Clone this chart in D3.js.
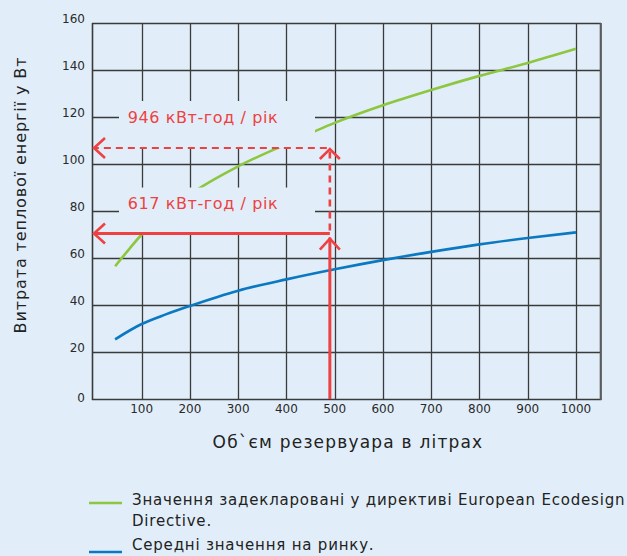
<!DOCTYPE html>
<html>
<head>
<meta charset="utf-8">
<script src="https://cdn.jsdelivr.net/npm/d3@7"></script>
<style>
  body { margin: 0; background: #e1eef9; }
  svg { display: block; font-family: "DejaVu Sans", sans-serif; }
</style>
</head>
<body>
<div id="graph"></div>
<script>
const width = 627
const height = 556

// tank volume (l) and heat loss (W)
const ecoVolume = [45, 75, 100, 150, 200, 300, 400, 500, 600, 700, 800, 900, 1000]
const ecoLoss = [56.5, 64, 70, 79, 87, 99, 108.5, 117.5, 125, 131.5, 137.5, 143, 149]
const marketVolume = [45, 100, 150, 200, 300, 400, 500, 600, 700, 800, 900, 1000]
const marketLoss = [25.4, 31.9, 36, 39.6, 46.1, 50.9, 55.2, 59.1, 62.6, 65.8, 68.5, 70.9]

const xTicks = [100, 200, 300, 400, 500, 600, 700, 800, 900, 1000]
const yTicks = [0, 20, 40, 60, 80, 100, 120, 140, 160]

// annotation: chosen tank and read-off losses
const pickVolume = 490
const ecoPick = 106.8
const marketPick = 70.4
const ecoLabel = "946 кВт-год / рік"
const marketLabel = "617 кВт-год / рік"

const legendItems = [
    { lines: ["Значення задекларовані у директиві European Ecodesign", "Directive."], color: "#8dc63f" },
    { lines: ["Середні значення на ринку."], color: "#0a78c2" }
]

const bg = "#e1eef9"
const red = "#ef4141"

const svg = d3.select("#graph").append("svg")
    .attr("width", width)
    .attr("height", height)

svg.append("rect")
    .attr("width", width)
    .attr("height", height)
    .attr("fill", bg)

const x = d3.scaleLinear()
    .domain([0, 1050])
    .range([93.4, 600.1])

const y = d3.scaleLinear()
    .domain([0, 160])
    .range([399, 23])

// Grid
svg.append("g")
    .attr("stroke", "#3a3a3a")
    .attr("stroke-width", 1.3)
    .selectAll()
    .data(xTicks)
    .join("line")
    .attr("x1", d => Math.round(x(d)) + 0.5)
    .attr("x2", d => Math.round(x(d)) + 0.5)
    .attr("y1", y(160))
    .attr("y2", y(0))

svg.append("g")
    .attr("stroke", "#3a3a3a")
    .attr("stroke-width", 1.3)
    .selectAll()
    .data(yTicks.filter(d => d > 0))
    .join("line")
    .attr("x1", 92)
    .attr("x2", 601)
    .attr("y1", d => Math.round(y(d)) + 0.5)
    .attr("y2", d => Math.round(y(d)) + 0.5)

// Axes frame
svg.append("line")
    .attr("x1", 92.5).attr("x2", 92.5)
    .attr("y1", y(160)).attr("y2", y(0) + 1)
    .attr("stroke", "#3a3a3a").attr("stroke-width", 1.6)
svg.append("line")
    .attr("x1", 92).attr("x2", 601.5)
    .attr("y1", y(0) + 0.5).attr("y2", y(0) + 0.5)
    .attr("stroke", "#3a3a3a").attr("stroke-width", 1.6)
svg.append("line")
    .attr("x1", 600.8).attr("x2", 600.8)
    .attr("y1", y(160)).attr("y2", y(0) + 1)
    .attr("stroke", "#5c5c5c").attr("stroke-width", 2.2)

// Tick labels
svg.append("g")
    .attr("font-size", 12)
    .attr("fill", "#2a2a2a")
    .attr("text-anchor", "end")
    .selectAll()
    .data(yTicks)
    .join("text")
    .attr("x", 85)
    .attr("y", d => y(d) + (d === 0 ? 3 : 0))
    .text(d => d)

svg.append("g")
    .attr("font-size", 12)
    .attr("fill", "#2a2a2a")
    .attr("text-anchor", "middle")
    .selectAll()
    .data(xTicks)
    .join("text")
    .attr("x", d => x(d))
    .attr("y", 413)
    .text(d => d)

// Curves
const line = d3.line()
    .x(d => x(d[0]))
    .y(d => y(d[1]))
    .curve(d3.curveMonotoneX)

svg.append("path")
    .attr("d", line(d3.zip(ecoVolume, ecoLoss)))
    .attr("fill", "none")
    .attr("stroke", legendItems[0].color)
    .attr("stroke-width", 2.6)

svg.append("path")
    .attr("d", line(d3.zip(marketVolume, marketLoss)))
    .attr("fill", "none")
    .attr("stroke", legendItems[1].color)
    .attr("stroke-width", 2.6)

// Label boxes (mask grid and curves)
const boxX0 = 119
const boxX1 = 315
svg.append("rect")
    .attr("x", boxX0).attr("y", y(ecoPick) - 47)
    .attr("width", boxX1 - boxX0).attr("height", 47)
    .attr("fill", bg)
svg.append("rect")
    .attr("x", boxX0).attr("y", y(marketPick) - 46)
    .attr("width", boxX1 - boxX0).attr("height", 46)
    .attr("fill", bg)

svg.append("text")
    .attr("x", (boxX0 + boxX1) / 2 - 14)
    .attr("y", y(ecoPick) - 25)
    .attr("text-anchor", "middle")
    .attr("font-size", 16)
    .attr("letter-spacing", 0.6)
    .attr("fill", red)
    .text(ecoLabel)

svg.append("text")
    .attr("x", (boxX0 + boxX1) / 2 - 14)
    .attr("y", y(marketPick) - 25)
    .attr("text-anchor", "middle")
    .attr("font-size", 16)
    .attr("letter-spacing", 0.6)
    .attr("fill", red)
    .text(marketLabel)

// Red arrows
const px = x(pickVolume)
const arrows = svg.append("g")
    .attr("fill", "none")
    .attr("stroke", red)
    .attr("stroke-linecap", "butt")

// dashed: volume up to ecodesign, across to axis
arrows.append("line")
    .attr("x1", px).attr("x2", px)
    .attr("y1", y(marketPick) - 3).attr("y2", y(ecoPick) + 3)
    .attr("stroke-width", 2.6)
    .attr("stroke-dasharray", "7,5")
arrows.append("line")
    .attr("x1", px - 3).attr("x2", 94)
    .attr("y1", y(ecoPick)).attr("y2", y(ecoPick))
    .attr("stroke-width", 1.8)
    .attr("stroke-dasharray", "7,5")
arrows.append("path")
    .attr("d", `M${px - 10},${y(ecoPick) + 11}L${px},${y(ecoPick) + 1}L${px + 10},${y(ecoPick) + 11}`)
    .attr("stroke-width", 2.6)
arrows.append("path")
    .attr("d", `M${105},${y(ecoPick) - 10}L${94},${y(ecoPick)}L${105},${y(ecoPick) + 10}`)
    .attr("stroke-width", 2.6)

// solid: volume up to market average, across to axis
arrows.append("line")
    .attr("x1", px).attr("x2", px)
    .attr("y1", y(0)).attr("y2", y(marketPick) + 4)
    .attr("stroke-width", 3)
arrows.append("line")
    .attr("x1", px).attr("x2", 95)
    .attr("y1", y(marketPick)).attr("y2", y(marketPick))
    .attr("stroke-width", 3)
arrows.append("path")
    .attr("d", `M${px - 10},${y(marketPick) + 16}L${px},${y(marketPick) + 5}L${px + 10},${y(marketPick) + 16}`)
    .attr("stroke-width", 2.6)
arrows.append("path")
    .attr("d", `M${105},${y(marketPick) - 10}L${94},${y(marketPick)}L${105},${y(marketPick) + 10}`)
    .attr("stroke-width", 2.6)

// Axis titles
svg.append("text")
    .attr("x", 348)
    .attr("y", 448)
    .attr("text-anchor", "middle")
    .attr("font-size", 17)
    .attr("letter-spacing", 1.2)
    .attr("fill", "#222")
    .text("Об`єм резервуара в літрах")

svg.append("text")
    .attr("transform", "translate(26,195) rotate(-90)")
    .attr("text-anchor", "middle")
    .attr("font-size", 16)
    .attr("letter-spacing", 0.9)
    .attr("fill", "#222")
    .text("Витрата теплової енергії у Вт")

// Legend
const legendLineY = [503, 552]
const legendTextY = [505, 550]
legendItems.forEach((item, i) => {
    svg.append("line")
        .attr("x1", 89).attr("x2", 122)
        .attr("y1", legendLineY[i]).attr("y2", legendLineY[i])
        .attr("stroke", item.color)
        .attr("stroke-width", 2.6)
    item.lines.forEach((t, j) => {
        svg.append("text")
            .attr("x", 132)
            .attr("y", legendTextY[i] + j * 21)
            .attr("font-size", 15)
            .attr("letter-spacing", 0.8)
            .attr("fill", "#222")
            .text(t)
    })
})
</script>
</body>
</html>
